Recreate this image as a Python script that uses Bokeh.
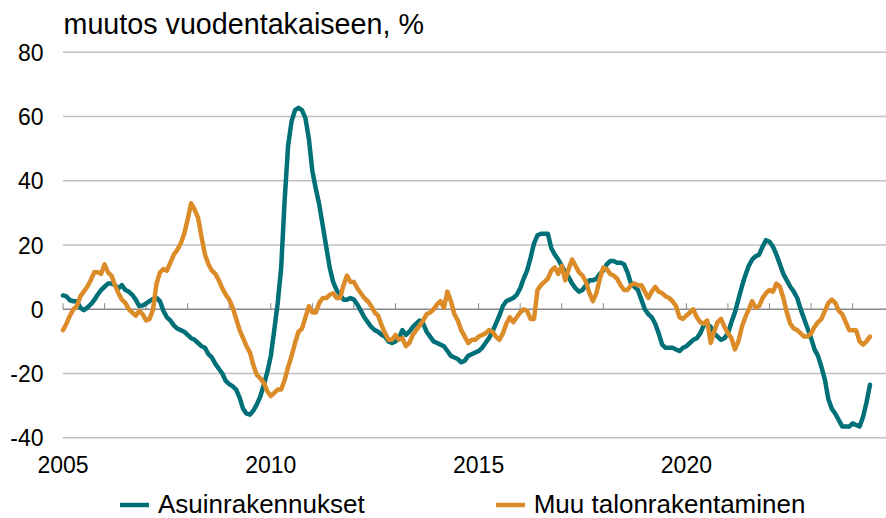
from bokeh.plotting import figure
from bokeh.models import Range1d, Legend, LegendItem
from bokeh.core.properties import value
from bokeh.embed import file_html
from bokeh.resources import INLINE

# ---------------- data (monthly, Jan 2005 onwards) ----------------
start_year = 2005
asuinrakennukset = [
    4.3, 4.0, 2.8, 2.5, 2.5, 0.5, -0.3, 0.5, 1.5, 2.8,
    4.5, 6.0, 7.0, 8.0, 8.0, 7.5, 6.5, 7.5, 6.0, 5.5,
    4.5, 3.0, 1.0, 1.2, 1.8, 2.5, 3.2, 3.5, 2.5, -0.5,
    -2.5, -3.5, -5.0, -6.0, -6.5, -7.0, -8.0, -9.0, -9.5, -10.5,
    -11.5, -12.0, -14.0, -15.0, -17.0, -18.5, -20.0, -22.3, -23.3, -24.0,
    -25.0, -27.5, -31.0, -32.5, -32.8, -31.5, -29.5, -27.0, -23.5, -19.5,
    -14.5, -6.5, 2.0, 13.0, 34.0, 51.0, 58.5, 62.0, 62.7, 62.0,
    59.5, 53.0, 43.0, 37.5, 32.5, 26.0, 19.5, 13.0, 8.5, 6.0,
    4.5, 3.0, 3.0, 3.5, 3.0, 1.5, -0.5, -2.5, -4.0, -5.5,
    -6.5, -7.0, -8.0, -8.5, -10.0, -10.5, -10.0, -9.0, -6.5, -8.0,
    -7.0, -5.5, -4.5, -3.5, -4.5, -7.0, -8.5, -10.0, -10.5, -11.0,
    -11.5, -13.0, -14.5, -15.0, -15.5, -16.5, -16.0, -14.5, -14.0, -13.5,
    -13.0, -12.0, -10.5, -9.0, -7.0, -4.5, -2.0, 1.0, 2.5, 3.0,
    3.5, 4.5, 6.5, 9.5, 12.0, 16.0, 20.5, 23.0, 23.5, 23.5,
    23.5, 19.0, 17.0, 15.5, 13.5, 11.5, 10.0, 8.0, 6.5, 5.5,
    6.0, 7.5, 9.0, 9.0, 9.5, 11.0, 12.0, 14.0, 15.0, 15.0,
    14.5, 14.5, 14.0, 11.5, 8.0, 7.0, 6.0, 3.0, 0.0, -1.5,
    -2.5, -4.5, -7.5, -11.0, -12.0, -12.0, -12.0, -12.5, -13.0, -12.0,
    -11.5, -10.5, -9.5, -9.0, -7.5, -5.0, -4.5, -5.5, -7.5, -8.5,
    -9.5, -9.0, -7.5, -4.0, -1.0, 3.0, 7.0, 10.5, 13.5, 15.5,
    16.5, 17.0, 19.5, 21.5, 21.0, 19.5, 17.0, 14.0, 11.0, 9.0,
    7.0, 5.5, 3.5, 0.0, -3.0, -6.0, -9.0, -12.5, -14.5, -18.0,
    -22.0, -28.0, -31.0, -32.5, -34.5, -36.5, -36.5, -36.5, -35.5, -36.0,
    -36.5, -33.5, -29.0, -23.5,
]
muu_talonrakentaminen = [
    -6.5, -4.5, -2.0, 0.0, 1.0, 4.0, 5.5, 7.0, 9.0, 11.5,
    11.5, 11.0, 14.0, 11.5, 10.5, 7.5, 5.0, 3.0, 2.0, 0.0,
    -1.0, -2.0, -0.5, -1.5, -3.5, -3.0, 0.0, 8.0, 11.5, 12.5,
    12.0, 14.5, 17.0, 18.5, 20.5, 23.5, 28.0, 33.0, 31.0, 28.5,
    22.5, 17.0, 14.0, 12.0, 11.0, 9.0, 6.5, 4.5, 3.0, 0.5,
    -3.0, -6.5, -9.0, -11.5, -13.5, -17.5, -20.5, -21.5, -23.0, -25.5,
    -27.0, -26.0, -25.0, -25.0, -22.0, -18.0, -14.5, -10.5, -7.0, -6.0,
    -2.5, 1.0, -1.0, -1.0, 2.0, 3.5, 3.5, 4.5, 5.0, 3.5,
    3.5, 7.5, 10.5, 8.5, 8.5, 6.5, 5.0, 3.5, 2.5, 1.0,
    -1.0, -2.0, -5.0, -7.5, -9.5, -9.5, -8.0, -9.5, -9.0, -11.5,
    -10.5, -8.0, -6.5, -5.0, -3.5, -1.5, -1.0, 0.0, 1.5, 2.5,
    0.5, 5.5, 2.5, -1.5, -3.5, -6.5, -8.5, -10.5, -9.5, -9.5,
    -8.5, -8.0, -7.5, -6.5, -7.0, -8.5, -9.5, -7.5, -4.5, -2.5,
    -4.0, -2.5, -1.0, 0.0, -0.5, -3.0, -3.0, 6.0, 7.5, 8.5,
    9.5, 12.0, 13.0, 11.0, 13.5, 9.0, 12.5, 15.5, 13.5, 11.5,
    10.5, 8.5, 5.0, 2.5, 5.0, 9.5, 13.0, 12.5, 11.0, 10.5,
    9.5, 7.5, 6.0, 6.0, 7.5, 8.0, 7.5, 7.5, 5.5, 3.5,
    5.5, 7.0, 5.5, 5.0, 4.0, 3.5, 2.5, 1.0, -2.5, -3.0,
    -2.0, -1.0, 0.0, -2.5, -4.0, -4.5, -3.5, -10.5, -7.0, -4.0,
    -3.0, -5.5, -7.5, -9.0, -12.5, -10.0, -5.5, -2.5, 0.0, 2.5,
    0.5, 1.0, 3.5, 5.0, 6.0, 5.5, 8.0, 7.0, 3.5, -1.0,
    -4.5, -6.0, -6.5, -7.5, -8.5, -8.5, -7.5, -5.5, -4.0, -3.0,
    -0.5, 2.0, 3.0, 2.0, -0.5, -1.5, -4.0, -6.5, -6.5, -6.5,
    -10.0, -11.0, -10.0, -8.5,
]
year_labels = [2005, 2010, 2015, 2020]
tick_years = list(range(2005, 2025))
y_ticks = [-40, -20, 0, 20, 40, 60, 80]
grid_values = [-40, -20, 20, 40, 60, 80]
y_min, y_max = -40, 80
series_names = ["Asuinrakennukset", "Muu talonrakentaminen"]
title_text = "muutos vuodentakaiseen, %"

# ---------------- styling / layout ----------------
TEAL = "#007078"
ORANGE = "#DB8B28"
GRID = "#c0c0c0"
AXIS = "#8a8a8a"
FONT = "Liberation Sans"

FIG_W, FIG_H = 886, 518
X0_PX = 62.5          # canvas x of the start of 2005
PX_PER_YEAR = 41.56
YTOP_PX = 51.7        # canvas y of the top (80) grid line
PX_PER_UNIT = 385.6 / (y_max - y_min)

x_start = start_year - X0_PX / PX_PER_YEAR
x_end = x_start + FIG_W / PX_PER_YEAR
y_end = y_max + YTOP_PX / PX_PER_UNIT
y_start = y_end - FIG_H / PX_PER_UNIT

x_vals = [start_year + i / 12 for i in range(len(asuinrakennukset))]

p = figure(width=FIG_W, height=FIG_H, output_backend="svg", toolbar_location=None,
           x_range=Range1d(x_start, x_end), y_range=Range1d(y_start, y_end),
           min_border=0)
p.min_border_left = 0
p.min_border_right = 0
p.min_border_top = 0
p.min_border_bottom = 0
p.outline_line_color = None
p.background_fill_color = "white"
p.border_fill_color = "white"
p.xaxis.visible = False
p.yaxis.visible = False
p.xgrid.visible = False
p.ygrid.visible = False

# horizontal grid lines, zero line, year tick marks
n_grid = len(grid_values)
p.segment(x0=[start_year] * n_grid, y0=grid_values, x1=[x_end] * n_grid,
          y1=grid_values, line_color=GRID, line_width=1.5)
p.segment(x0=[start_year], y0=[0], x1=[x_end], y1=[0],
          line_color=AXIS, line_width=1.5)
p.segment(x0=tick_years, y0=[0] * len(tick_years), x1=tick_years,
          y1=[1.9] * len(tick_years), line_color=AXIS, line_width=1)

# y tick labels
p.text(x=[start_year] * len(y_ticks), y=y_ticks, text=[str(v) for v in y_ticks],
       text_font=value(FONT), text_font_size="23px", text_color="#000000",
       text_align="right", text_baseline="middle", x_offset=-19.5)

# x tick labels
p.text(x=year_labels, y=[y_min] * len(year_labels),
       text=[str(v) for v in year_labels],
       text_font=value(FONT), text_font_size="23px", text_color="#000000",
       text_align="center", text_baseline="middle", y_offset=27.1)

# title
p.text(x=[start_year], y=[y_max], text=[title_text],
       text_font=value(FONT), text_font_size="28.7px", text_color="#000000",
       text_align="left", text_baseline="middle", x_offset=0.5, y_offset=-28.3)

# lines
r1 = p.line(x_vals, asuinrakennukset, line_color=TEAL, line_width=4.5,
            line_join="round", line_cap="round")
r2 = p.line(x_vals, muu_talonrakentaminen, line_color=ORANGE, line_width=4.5,
            line_join="round", line_cap="round")

legend = Legend(items=[LegendItem(label=series_names[0], renderers=[r1]),
                       LegendItem(label=series_names[1], renderers=[r2])],
                orientation="horizontal", location=(X0_PX + 57.5, -2),
                glyph_width=29, glyph_height=29, label_height=29,
                label_standoff=9, spacing=131, padding=0, margin=0,
                border_line_color=None, background_fill_alpha=0,
                label_text_font=FONT, label_text_font_size="26px",
                label_text_color="#000000")
p.add_layout(legend, "center")

open("out.html", "w").write(file_html(p, INLINE))
